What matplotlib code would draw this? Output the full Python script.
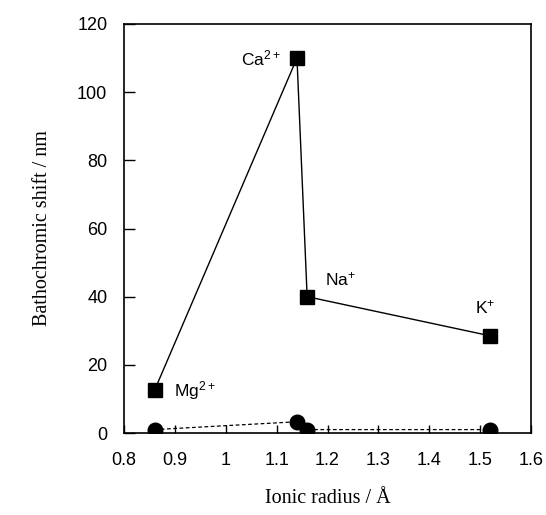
import matplotlib
matplotlib.use("Agg")
import matplotlib.pyplot as plt

plt.rcParams["mathtext.fontset"] = "custom"
plt.rcParams["mathtext.rm"] = "Liberation Sans"
plt.rcParams["mathtext.it"] = "Liberation Sans"
plt.rcParams["mathtext.bf"] = "Liberation Sans"

ions = ["Mg$^{2+}$", "Ca$^{2+}$", "Na$^{+}$", "K$^{+}$"]
radius = [0.86, 1.14, 1.16, 1.52]
shift_squares = [12.5, 110, 40, 28.5]
shift_circles = [1.0, 3.3, 1.0, 1.0]
label_pos = [(0.898, 12.6, "left"), (1.108, 110, "right"), (1.196, 45, "left"), (1.49, 37, "left")]

fig = plt.figure(figsize=(5.46, 5.15), dpi=100)
ax = fig.add_axes([124/546, 1-433/515, 407/546, 409/515])

ax.plot(radius, shift_squares, color="black", lw=1.0, marker="s", ms=10.5, mfc="black", mec="black", zorder=3)
ax.plot(radius, shift_circles, color="black", lw=0.9, ls=(0, (3, 2)), marker="o", ms=10.5, mfc="black", mec="black", zorder=3)

for name, (x, y, ha) in zip(ions, label_pos):
    ax.text(x, y, "$\\mathregular{" + name.strip("$") + "}$" if False else name, ha=ha, va="center", fontsize=12.5, family="Liberation Sans")

ax.set_xlim(0.8, 1.6)
ax.set_ylim(0, 120)
ax.set_xticks([0.8, 0.9, 1.0, 1.1, 1.2, 1.3, 1.4, 1.5, 1.6])
ax.set_xticklabels(["0.8", "0.9", "1", "1.1", "1.2", "1.3", "1.4", "1.5", "1.6"])
ax.set_yticks([0, 20, 40, 60, 80, 100, 120])
ax.tick_params(direction="in", length=8, width=1, labelsize=13)
ax.tick_params(axis="x", length=6, pad=14)
ax.tick_params(axis="y", pad=12)
for lab in ax.get_xticklabels() + ax.get_yticklabels():
    lab.set_family("Liberation Sans")
for sp in ax.spines.values():
    sp.set_linewidth(1.2)

ax.set_xlabel("Ionic radius / Å", family="Liberation Serif", fontsize=14.5, labelpad=14)
ax.set_ylabel("Bathochromic shift / nm", family="Liberation Serif", fontsize=14.5, labelpad=18)

fig.savefig("out.png", dpi=100)
